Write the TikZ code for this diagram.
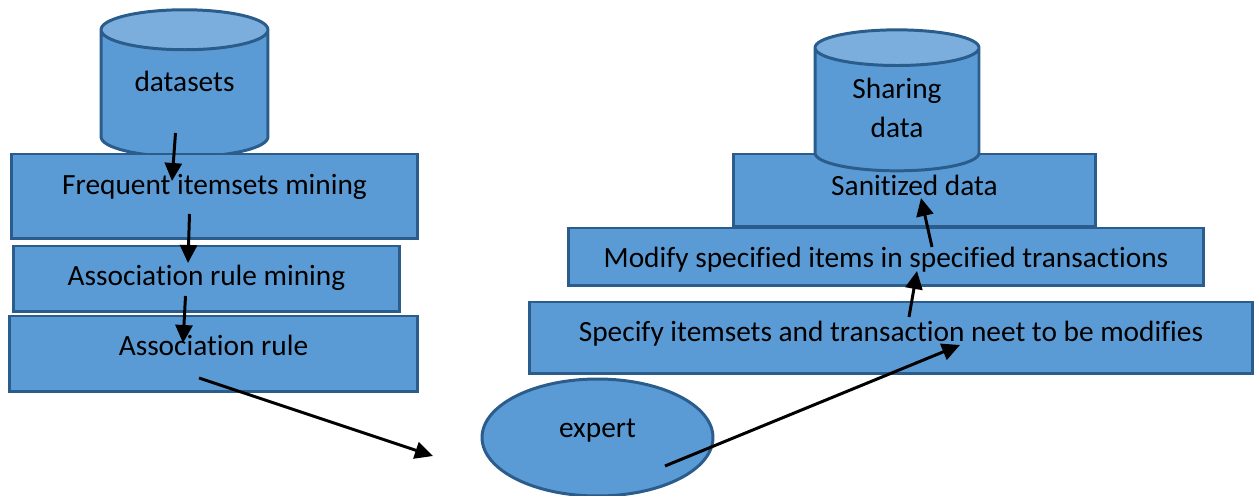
\documentclass[tikz,border=0pt]{standalone}
\usepackage{fontspec}
\setmainfont[Ligatures=NoCommon]{Carlito}
\usetikzlibrary{shapes.geometric,arrows.meta}
\definecolor{boxfill}{HTML}{5B9BD5}
\definecolor{boxline}{HTML}{2A5C8C}
\definecolor{capfill}{HTML}{7CAEDD}
\tikzset{
  base/.style={draw=boxline,line width=1.7pt,fill=boxfill,inner sep=0pt,outer sep=0pt,align=center,font=\fontsize{16.7}{22}\selectfont},
  raised/.style={text height=14pt,text depth={14pt+2*#1*0.02cm}},
  block/.style={base,rectangle},
  store/.style={base,fill=none,cylinder,shape border rotate=90,shape aspect=0.4,cylinder uses custom fill,cylinder body fill=boxfill,cylinder end fill=capfill},
  flow/.style={line width=1.7pt,-{Triangle[length=0.36cm,width=0.34cm]}}
}
\begin{document}
\begin{tikzpicture}[x=0.02cm,y=-0.02cm]
\useasboundingbox (0,0) rectangle (1254,496);
\node[store,raised=2,minimum width=3.34cm,minimum height=2.94cm] (data_in) at (184.5,94) {datasets};
\node[block,raised=1.5,minimum width=8.14cm,minimum height=1.70cm] (freq) at (214.5,196.5) {Frequent itemsets mining};
\node[block,raised=-7,minimum width=7.74cm,minimum height=1.32cm] (mining) at (206.5,279) {Association rule mining};
\node[block,raised=-2,minimum width=8.18cm,minimum height=1.52cm] (rule) at (213.5,354) {Association rule};
\node[block,raised=-5.5,minimum width=7.26cm,minimum height=1.46cm] (sanitized) at (914.5,190.5) {Sanitized data};
\node[store,text depth=0.08cm,minimum width=3.28cm,minimum height=2.82cm] (data_out) at (897,110) {Sharing\\data};
\node[block,raised=-11,minimum width=12.72cm,minimum height=1.16cm] (modify) at (886,257) {Modify specified items in specified transactions};
\node[block,raised=-4,minimum width=14.48cm,minimum height=1.44cm] (specify) at (891,338) {Specify itemsets and transaction neet to be modifies};
\node[base,ellipse,raised=0,minimum width=4.62cm,minimum height=2.34cm] (expert) at (597.5,437.5) {expert};
% arrow ends
\coordinate (a_0) at (175.5,133);
\coordinate (a_1) at (172,181);
\coordinate (b_0) at (189.5,214);
\coordinate (b_1) at (188,263);
\coordinate (c_0) at (185.5,296);
\coordinate (c_1) at (183,343);
\coordinate (d_0) at (199,378);
\coordinate (d_1) at (433,456);
\coordinate (e_0) at (665,466);
\coordinate (e_1) at (960,345);
\coordinate (f_0) at (909,317);
\coordinate (f_1) at (917,271);
\coordinate (g_0) at (932,247);
\coordinate (g_1) at (921,198);
\path[flow]
  (a_0) edge (a_1)
  (b_0) edge (b_1)
  (c_0) edge (c_1)
  (d_0) edge (d_1)
  (e_0) edge (e_1)
  (f_0) edge (f_1)
  (g_0) edge (g_1)
  ;
\end{tikzpicture}
\end{document}
